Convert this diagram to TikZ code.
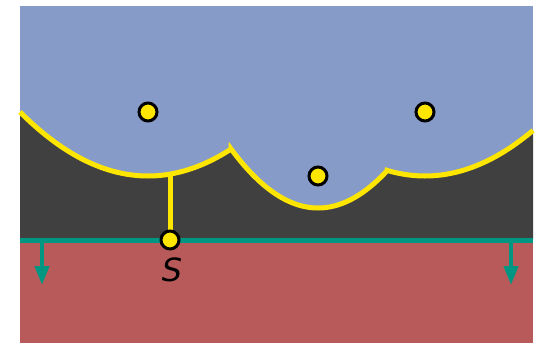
\documentclass[tikz,border=0pt]{standalone}
\usepackage{fontspec}
\newfontfamily\labelfont{DejaVu Sans}
\usetikzlibrary{arrows.meta}
\definecolor{skyblue}{HTML}{869BC8}
\definecolor{darkfill}{HTML}{404040}
\definecolor{redfill}{HTML}{B95A5A}
\definecolor{sweepgreen}{HTML}{009682}
\definecolor{beachyellow}{HTML}{FFE600}
\tikzstyle{site}=[circle,draw=black,fill=beachyellow,line width=3pt,inner sep=0pt,minimum size=18pt]
\tikzstyle{beach}=[draw=beachyellow,line width=5pt]
\tikzstyle{sweeparrow}=[draw=sweepgreen,line width=4pt,-{Triangle[width=14pt,length=19pt]}]
% parabolas with foci at the sites, directrix y=240
\newcommand{\beachline}{plot[domain=20:231.1,samples=60] (\x,{176-((\x-148)/16)^2})
  -- plot[domain=231.1:387.3,samples=60] (\x,{208-2*((\x-318)/16)^2})
  -- plot[domain=387.3:533,samples=60] (\x,{176-((\x-425)/16)^2})}

\begin{document}
\begin{tikzpicture}[x=1pt,y=-1pt]
    \useasboundingbox (0,0) rectangle (538,343);
    \fill[skyblue] (20,6) rectangle (533,240);
    \fill[darkfill] \beachline -- (533,240) -- (20,240) -- cycle;
    \fill[redfill] (20,240) rectangle (533,343);
    \draw[beach] \beachline;
    \coordinate (sl) at (20,240);
    \coordinate (sr) at (533,240);
    \draw[draw=sweepgreen,line width=5pt] (sl) -- (sr);
    \coordinate (d1) at (42,242);
    \coordinate (d1e) at (42,285);
    \coordinate (d2) at (511,242);
    \coordinate (d2e) at (511,285);
    \draw[sweeparrow] (d1) -- (d1e);
    \draw[sweeparrow] (d2) -- (d2e);
    \coordinate (hit) at (170,174.1);
    \draw[beach] (hit) -- (170,240);
    \node[site] (p1) at (148,112) {};
    \node[site] (p2) at (318,176) {};
    \node[site] (p3) at (425,112) {};
    \node[site] (S) at (170,240) {};
    \node (Slabel) at (172,270) {\labelfont\fontsize{32}{32}\selectfont\itshape S};
\end{tikzpicture}
\end{document}
